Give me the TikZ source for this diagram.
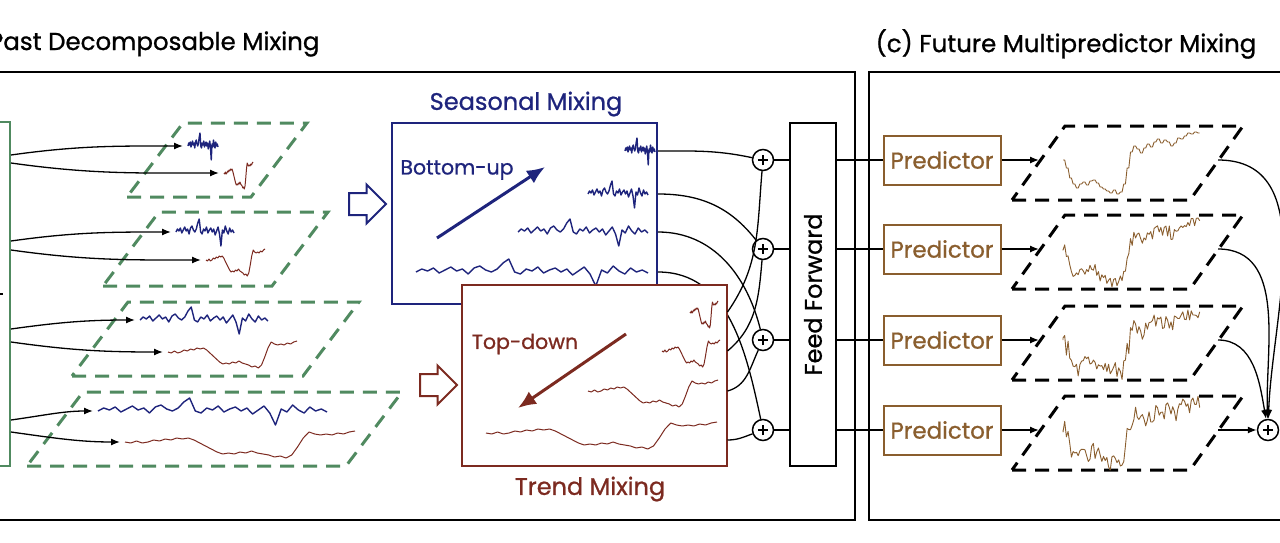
\documentclass[tikz,border=0pt]{standalone}
\usepackage{fontspec}
\setmainfont{Poppins}[FakeBold=0.9]
\usetikzlibrary{arrows.meta,positioning,calc,shapes.arrows}
\definecolor{pastgreen}{RGB}{80,138,96}
\definecolor{seasblue}{RGB}{30,36,124}
\definecolor{trendred}{RGB}{124,42,32}
\definecolor{predbrown}{RGB}{138,94,46}
\tikzset{
	panel/.style={draw,line width=2.4pt},
	layer/.style={line width=3pt,dash pattern=on 14pt off 9pt},
	mixbox/.style={draw,rectangle,line width=2pt,fill=white,minimum width=265pt,minimum height=181pt},
	sum/.style={draw,circle,line width=1.5pt,fill=white,minimum size=21pt,inner sep=0pt,
		path picture={\draw[line width=1.8pt] ([xshift=-5pt]path picture bounding box.center) -- ([xshift=5pt]path picture bounding box.center)
			([yshift=-5pt]path picture bounding box.center) -- ([yshift=5pt]path picture bounding box.center);}},
	pred/.style={draw=predbrown,text=predbrown,line width=2pt,minimum width=117pt,minimum height=49pt,inner sep=0pt,font=\fontsize{23}{27}\selectfont},
	seas/.style={seasblue,line width=1.4pt,line join=round},
	trd/.style={trendred,line width=1pt,line join=round},
	fut/.style={predbrown,line width=0.9pt,line join=round},
	conn/.style={line width=1.3pt},
	bigarrow/.style={line width=3pt,-{Latex[length=18pt,width=15pt]}},
	hollow/.style={single arrow,draw,line width=2pt,fill=white,inner sep=10pt,minimum height=37pt,minimum width=37pt,single arrow head extend=8.5pt},
	title/.style={font=\fontsize{24.5}{28}\selectfont},
	mixlabel/.style={font=\fontsize{24}{28}\selectfont},
	dirlabel/.style={font=\fontsize{20.5}{24}\selectfont}
}
\def\seasdata{0,3,1,4,-1,2,5,1,3,-2,4,6,2,0,3,9,13,0,-2,3,1,5,-1,2,4,0,3,-3,1,5,-2,-14,2,-1,6,1,-2,4,0,2,-1}
\def\trenddata{0,-1,1,-1,0,2,1,3,2,4,3,4,2,-1,-4,-7,-10,-12,-11,-12,-10,-11,-9,-11,-12,-13,-15,-14,-16,-13,-5,4,10,8,7,8,7,9,8,10,11}
\def\futdata{30,22,12,6,2,6,8,5,9,10,7,3,1,-1,-3,0,-4,-2,6,22,38,44,41,37,42,46,43,48,51,47,50,48,44,47,52,51,54,57,56,58,57}
% style, data, left x, base y, width, name
\newcommand{\sig}[6]{\draw[#1] (#3,-#4) coordinate (#6) \foreach \v [count=\i from 0] in #2 {-- ({#3+\i*#5/40},{\v-#4})};}

\begin{document}
\begin{tikzpicture}[x=1pt,y=1pt,>={Latex[length=9pt,width=7pt]}]
\useasboundingbox (0,0) rectangle (1280,-543);
\clip (0,0) rectangle (1280,-543);
\pgfmathsetseed{7}

\draw[panel] (-20,-72) rectangle (855,-520);
\draw[panel] (869,-72) rectangle (1300,-520);
\node[title,anchor=east] (pasttitle) at (323,-44) {Past Decomposable Mixing};
\node[title] (futtitle) at (1066,-44) {(c) Future Multipredictor Mixing};

% past layers
\node[draw=pastgreen,line width=2pt,minimum width=40pt,minimum height=344pt] (embed) at (-10,-294) {};
\draw[conn] (embed.center) -- ++(13,0);
\foreach \y/\xl/\w in {197/127/124,286/103/169,376/72/231,466/27/319}
	\draw[layer,pastgreen] (\xl,-\y) -- ++(\w,0) -- ++(56,74) -- ++(-\w,0) -- cycle;
\foreach \i/\xb/\yb/\wb/\xr/\yr/\wr in {1/188/146/30/224/173/29,2/176/232/58/206/260/59,3/140/320/128/168/352/129,4/98/411/229/125/442/230}{
	\sig{seas}{\seasdata}{\xb}{\yb}{\wb}{b\i}
	\sig{trd}{\trenddata}{\xr}{\yr}{\wr}{r\i}
	\draw[conn,->,shorten >=5pt] ($(embed.east |- b\i)+(0,-9)$) to[out=8,in=180] (b\i);
	\draw[conn,->,shorten >=5pt] ($(embed.east |- r\i)+(0,10)$) to[out=-8,in=180] (r\i);
}

\node[hollow,draw=seasblue] (toseas) at (362,-204) {};
\node[hollow,draw=trendred] (totrend) at (433,-385) {};

% seasonal mixing
\node[mixbox,draw=seasblue] (seasbox) at (524.5,-213) {};
\node[mixlabel,text=seasblue] (seastitle) at (526,-104) {Seasonal Mixing};
\node[dirlabel,text=seasblue] (bottomup) at (457,-170) {Bottom-up};
\draw[bigarrow,seasblue] (437,-238) -- (545,-167);
\sig{seas}{\seasdata}{625}{151}{30}{s1}
\sig{seas}{\seasdata}{588}{194}{60}{s2}
\sig{seas}{\seasdata}{518}{232}{130}{s3}
\sig{seas}{\seasdata}{416}{272}{232}{s4}

\foreach \i/\y in {1/160,2/249,3/340,4/430}
	\node[sum] (add\i) at (763,-\y) {};
\draw[conn] (seasbox.east |- s1) to[out=0,in=168] (add1);
\draw[conn] (seasbox.east |- s2) to[out=0,in=128] (add2);
\draw[conn] (seasbox.east |- s3) to[out=0,in=104] (add3);
\draw[conn] (seasbox.east |- s4) to[out=0,in=102] (add4);

% trend mixing
\node[mixbox,draw=trendred] (trendbox) at (594,-375.5) {};
\node[mixlabel,text=trendred] (trendtitle) at (590,-489) {Trend Mixing};
\node[dirlabel,text=trendred] (topdown) at (525,-344) {Top-down};
\draw[bigarrow,trendred] (626,-334) -- (518,-408);
\sig{trd}{\trenddata}{690}{312}{28}{t1}
\sig{trd}{\trenddata}{662}{351}{58}{t2}
\sig{trd}{\trenddata}{588}{391}{130}{t3}
\sig{trd}{\trenddata}{486}{433}{231}{t4}
\draw[conn] (trendbox.east |- t1) to[out=55,in=-95] (add1);
\draw[conn] (trendbox.east |- t2) to[out=40,in=-95] (add2);
\draw[conn] (trendbox.east |- t3) to[out=15,in=-115] (add3);
\draw[conn] ($(trendbox.east |- t4)+(0,-7)$) to[out=0,in=200] (add4);

\node[draw,line width=2pt,fill=white,minimum width=46pt,minimum height=343pt] (ff) at (813,-294.5) {};
\node[rotate=90,font=\fontsize{24}{28}\selectfont] (fftext) at (ff) {Feed Forward};

% future multipredictor mixing
\node[sum] (final) at (1268,-430) {};
\foreach \y/\k [count=\i] in {160/0,249/5,340/8,430/10}{
	\draw[conn] (add\i) -- (add\i -| ff.west);
	\node[pred] (pred\i) at (942,-\y) {Predictor};
	\draw[conn] (ff.east |- add\i) -- (pred\i);
	\draw[layer,black] (1012,-\y-40) -- ++(178,0) -- ++(53,74) -- ++(-178,0) -- cycle;
	\coordinate (fin\i) at (1039,-\y);
	\coordinate (fout\i) at (1218,-\y);
	\draw[conn,->] (pred\i) -- (fin\i);
	\draw[fut] (1063,-\y) \foreach \v [count=\j from 0] in \futdata {-- ({1063+\j*135/40},{\v-\y-30+\k*rand}) -- ({1063+(\j+0.5)*135/40},{\v-\y-30+\k*rand})};
}
\draw[conn,->] (fout1) to[out=0,in=88] (final);
\draw[conn,->] (fout2) to[out=0,in=92] (final);
\draw[conn,->] (fout3) to[out=0,in=100] (final);
\draw[conn,->] (fout4) -- (final);
\end{tikzpicture}
\end{document}
